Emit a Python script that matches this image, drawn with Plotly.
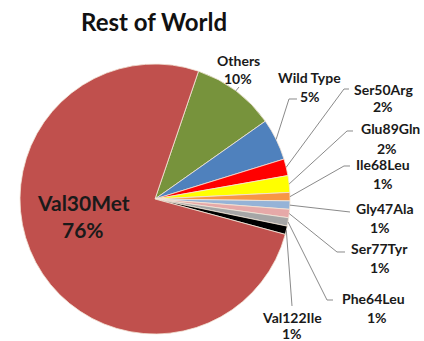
import math
import plotly.graph_objects as go

# ---- data -------------------------------------------------------------
mutations = ["Others", "Wild Type", "Ser50Arg", "Glu89Gln", "Ile68Leu",
             "Gly47Ala", "Ser77Tyr", "Phe64Leu", "Val122Ile", "Val30Met"]
shares = [10, 5, 2, 2, 1, 1, 1, 1, 1, 76]
slice_colors = ["#77933C", "#4F81BD", "#FF0000", "#FFFF00", "#F79646",
                "#95B3D7", "#E6A9A8", "#A6A6A6", "#000000", "#C0504D"]

# ---- layout constants (pixels) -----------------------------------------
W, H = 424, 341
CX, CY, R = 155, 199, 135          # pie centre and radius
START_DEG = 18.8                   # first slice starts this far clockwise from 12 o'clock
FONT = "Lato"
TEXT_COLOR = "#1a1a1a"
LEADER_COLOR = "#8a8a8a"

# label placement: name line, percent line, elbow points of the leader line
label_layout = {
    "Others":    dict(name=(238, 60),  pct=(238, 78),  elbow=[(239, 87)]),
    "Wild Type": dict(name=(309, 77),  pct=(310, 97),  elbow=[(297, 99), (289, 99)]),
    "Ser50Arg":  dict(name=(383, 89),  pct=(383, 107), elbow=[(349, 89), (344, 89)]),
    "Glu89Gln":  dict(name=(390, 128), pct=(387, 148), elbow=[(353, 131), (347, 131)]),
    "Ile68Leu":  dict(name=(383, 164), pct=(383, 183), elbow=[(350, 166), (344, 166)]),
    "Gly47Ala":  dict(name=(385, 208), pct=(380, 227), elbow=[(350, 212)]),
    "Ser77Tyr":  dict(name=(379, 248), pct=(380, 267), elbow=[(345, 252), (337, 252)]),
    "Phe64Leu":  dict(name=(373, 298), pct=(377, 317), elbow=[(333, 300), (327, 300)]),
    "Val122Ile": dict(name=(292, 317), pct=(292, 333), elbow=[(292, 306)]),
}
inside_label = dict(name=(83, 202), pct=(83, 229))


def px(x):
    return x / W


def py(y):
    return 1 - y / H


fig = go.Figure(go.Pie(
    labels=mutations,
    values=shares,
    sort=False,
    direction="clockwise",
    rotation=START_DEG,
    marker=dict(colors=slice_colors, line=dict(color="#F3E6D8", width=0.8)),
    textinfo="none",
    hoverinfo="label+percent",
    showlegend=False,
    domain=dict(x=[px(CX - R), px(CX + R)], y=[py(CY + R), py(CY - R)]),
))

annotations = []
shapes = []
total = sum(shares)
cum = 0.0
for name, val in zip(mutations, shares):
    mid = START_DEG + (cum + val / 2) / total * 360
    cum += val
    pct_text = f"{round(val / total * 100)}%"
    if name in label_layout:
        spec = label_layout[name]
        ang = math.radians(mid)
        ex, ey = CX + R * math.sin(ang), CY - R * math.cos(ang)
        pts = spec["elbow"] + [(ex, ey)]
        path = "M " + " L ".join(f"{px(x):.5f},{py(y):.5f}" for x, y in pts)
        shapes.append(dict(type="path", path=path, xref="paper", yref="paper",
                           line=dict(color=LEADER_COLOR, width=1)))
        fsize = 14
    else:
        spec = inside_label
        fsize = 21
    for key, txt in (("name", name), ("pct", pct_text)):
        x, y = spec[key]
        annotations.append(dict(
            x=px(x), y=py(y), xref="paper", yref="paper",
            text=txt, showarrow=False, xanchor="center", yanchor="middle",
            font=dict(family=FONT, size=fsize, color=TEXT_COLOR, weight="bold"),
        ))

annotations.append(dict(
    x=px(154), y=py(22), xref="paper", yref="paper", text="Rest of World",
    showarrow=False, xanchor="center", yanchor="middle",
    font=dict(family=FONT, size=24, color="#111111", weight="bold"),
))

fig.update_layout(
    width=W, height=H,
    margin=dict(l=0, r=0, t=0, b=0),
    paper_bgcolor="white",
    plot_bgcolor="white",
    annotations=annotations,
    shapes=shapes,
)

fig.write_html("out.html")
